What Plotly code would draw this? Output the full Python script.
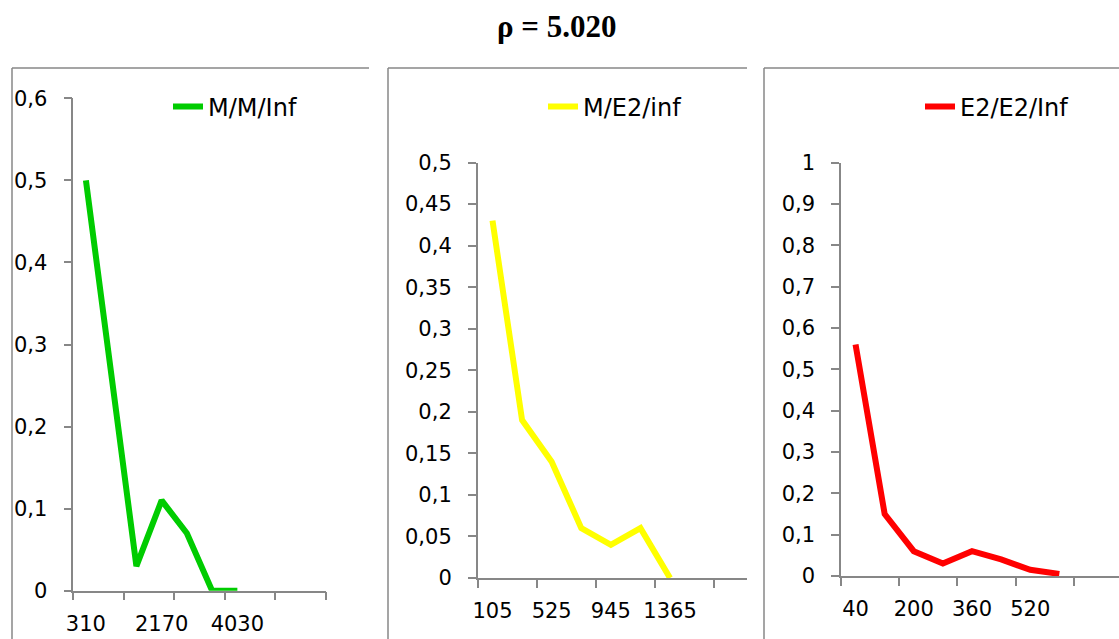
import plotly.graph_objects as go

# ---------------- data ----------------
title_text = "ρ = 5.020"

mm_name = "M/M/Inf"
mm_x = [310, 1550, 2170, 2790, 3410, 4030]
mm_y = [0.5, 0.03, 0.11, 0.07, 0, 0]
mm_step = 620
mm_ncat = 10
mm_ticks = ["310", "2170", "4030"]

me_name = "M/E2/inf"
me_x = [105, 315, 525, 735, 945, 1155, 1365]
me_y = [0.43, 0.19, 0.14, 0.06, 0.04, 0.06, 0]
me_step = 210
me_ncat = 9.09
me_ticks = ["105", "525", "945", "1365"]

ee_name = "E2/E2/Inf"
ee_x = [40, 120, 200, 280, 360, 440, 520, 600]
ee_y = [0.56, 0.15, 0.06, 0.03, 0.06, 0.04, 0.015, 0.005]
ee_step = 80
ee_ncat = 9.55
ee_ticks = ["40", "200", "360", "520"]

# ---------------- styling ----------------
W, H = 1119, 639
AX = "#878787"
TICKFONT = dict(family="DejaVu Sans", size=21, color="#000000")
LEGFONT = dict(family="DejaVu Sans", size=24, color="#000000")


def px_x(p):
    return p / W


def px_y(p):
    return (H - p) / H


fig = go.Figure()

panels = [
    dict(name=mm_name, x=mm_x, y=mm_y, color="#00CC00", step=mm_step, ncat=mm_ncat,
         ticks=mm_ticks, xdom=(73.3, 325.7), ydom=(590.7, 98.3), yr=(0, 0.6), dy=0.1,
         leg=(168, 107)),
    dict(name=me_name, x=me_x, y=me_y, color="#FFFF00", step=me_step, ncat=me_ncat,
         ticks=me_ticks, xdom=(477.7, 746.7), ydom=(578.0, 162.5), yr=(0, 0.5), dy=0.05,
         leg=(543, 107)),
    dict(name=ee_name, x=ee_x, y=ee_y, color="#FF0000", step=ee_step, ncat=ee_ncat,
         ticks=ee_ticks, xdom=(841.0, 1119.0), ydom=(576.0, 162.5), yr=(0, 1.0), dy=0.1,
         leg=(920, 107)),
]

layout = dict(
    template="none",
    width=W, height=H,
    margin=dict(l=0, r=0, t=0, b=0, pad=0, autoexpand=False),
    paper_bgcolor="white", plot_bgcolor="white",
    separators=", ",
    showlegend=True,
    title=dict(text="<b>" + title_text + "</b>", x=556.7 / W, xanchor="center",
               y=1 - 26 / H, yanchor="middle", yref="container", automargin=False,
               font=dict(family="Liberation Serif", size=31, color="#000000")),
)

for i, p in enumerate(panels, start=1):
    sfx = "" if i == 1 else str(i)
    leg = "legend" if i == 1 else "legend" + str(i)
    fig.add_trace(go.Scatter(
        x=p["x"], y=p["y"], mode="lines", name=p["name"],
        line=dict(color=p["color"], width=6),
        xaxis="x" + sfx, yaxis="y" + sfx, legend=leg,
        hoverinfo="x+y",
    ))
    left = p["x"][0] - p["step"] / 2
    right = left + p["ncat"] * p["step"]
    bounds = []
    k = 0
    while left + k * 2 * p["step"] <= right + 1e-9:
        bounds.append(left + k * 2 * p["step"])
        k += 1
    layout["xaxis" + sfx] = dict(
        domain=[px_x(p["xdom"][0]), px_x(p["xdom"][1])],
        anchor="y" + sfx, range=[left, right], automargin=False,
        showline=True, linecolor=AX, linewidth=1.5,
        showgrid=False, zeroline=False,
        tickmode="array", tickvals=[float(t) for t in p["ticks"]], ticktext=p["ticks"],
        ticks="outside", ticklen=0, tickcolor=AX,
        tickfont=TICKFONT, ticklabelstandoff=13,
        minor=dict(tickmode="array", tickvals=bounds, ticks="outside", ticklen=8,
                   tickwidth=1.5, tickcolor=AX, showgrid=False),
        fixedrange=True,
    )
    layout["yaxis" + sfx] = dict(
        domain=[px_y(p["ydom"][0]), px_y(p["ydom"][1])],
        anchor="x" + sfx, range=list(p["yr"]), dtick=p["dy"], tick0=0, automargin=False,
        tickformat=".2~f",
        showline=True, linecolor=AX, linewidth=1.5,
        showgrid=False, zeroline=False,
        ticks="outside", ticklen=8, tickwidth=1.5, tickcolor=AX,
        tickfont=TICKFONT, ticklabelstandoff=12,
        fixedrange=True,
    )
    layout[leg] = dict(
        x=px_x(p["leg"][0]), xanchor="left",
        y=px_y(p["leg"][1]), yanchor="middle",
        bgcolor="rgba(0,0,0,0)", borderwidth=0,
        font=LEGFONT, itemwidth=30,
    )

# panel frames (top + left edges; right sides are cut off by the next panel)
frames = [(12, 369), (388, 747), (764, 1119)]
shapes = []
for x0, x1 in frames:
    shapes.append(dict(type="line", xref="paper", yref="paper",
                       x0=px_x(x0), x1=px_x(x1), y0=px_y(68), y1=px_y(68),
                       line=dict(color=AX, width=1.5)))
    shapes.append(dict(type="line", xref="paper", yref="paper",
                       x0=px_x(x0), x1=px_x(x0), y0=px_y(68), y1=0,
                       line=dict(color=AX, width=1.5)))
layout["shapes"] = shapes

fig.update_layout(**layout)
fig.write_html(
    "out.html",
    config={"displayModeBar": False},
    post_script="document.body.style.margin='0px';document.body.style.overflow='hidden';",
)
